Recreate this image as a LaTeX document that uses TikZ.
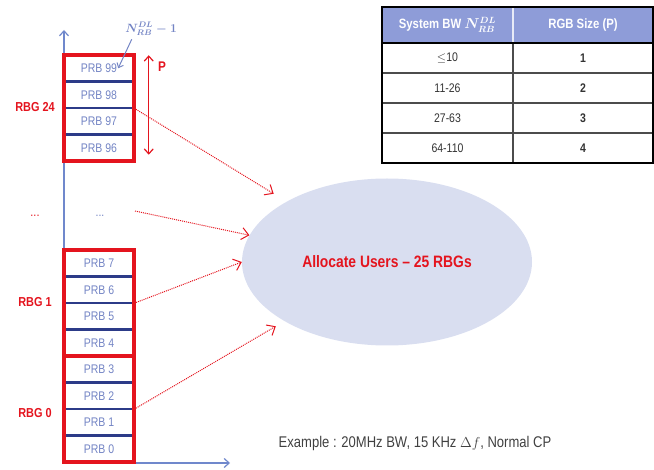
\documentclass[tikz,border=0pt]{standalone}
\usepackage{amsmath}
\usepackage{fontspec}
\setmainfont{Liberation Sans}
\newfontfamily\narrow[FakeStretch=0.84,Ligatures=TeX]{Liberation Sans}
\usetikzlibrary{shapes.geometric,arrows.meta}
\definecolor{rbgred}{HTML}{E4141E}
\definecolor{prbtext}{HTML}{7384C4}
\definecolor{sepblue}{HTML}{2C3B88}
\definecolor{axisblue}{HTML}{7088CC}
\definecolor{userfill}{HTML}{D9DEF0}
\definecolor{headfill}{HTML}{8E9CD8}
\tikzset{
  prb/.style={minimum width=70pt, minimum height=26.5pt, inner sep=0pt, text=prbtext, font=\narrow\fontsize{12.5}{14}\selectfont},
  rbgbox/.style={draw=rbgred, line width=3.5pt, minimum width=70pt, minimum height=106pt, inner sep=0pt},
  rbglabel/.style={text=rbgred, font=\narrow\bfseries\fontsize{13}{15}\selectfont},
  prbsep/.style={draw=sepblue, line width=2.5pt},
  axis/.style={draw=axisblue, line width=1.2pt, -{Straight Barb[length=5pt,width=9pt]}},
  alloc/.style={draw=rbgred, densely dotted, line width=1pt, -{Straight Barb[length=7pt,width=12pt]}},
  cell/.style={font=\narrow\fontsize{12.5}{14}\selectfont, text=black!80},
  headcell/.style={font=\narrow\bfseries\boldmath\fontsize{13.5}{15}\selectfont, text=white},
}

\begin{document}
\begin{tikzpicture}[x=1pt,y=-1pt]
    \useasboundingbox (0,0) rectangle (654,470);

    % users ellipse
    \path (387,262) node[ellipse, fill=userfill, minimum width=290pt, minimum height=167pt, text=rbgred, font=\narrow\bfseries\fontsize{16.5}{18}\selectfont] (users) {Allocate Users – 25 RBGs};

    % axes
    \coordinate (origin) at (64,463);
    \coordinate (ytop) at (64,30);
    \coordinate (xend) at (230,463);
    \draw[axis] (origin) -- (ytop);
    \draw[axis] (origin) -- (xend);

    % RBG 24
    \path (99,68.25) node[prb] (prb99) {PRB 99};
    \path (99,94.75) node[prb] (prb98) {PRB 98};
    \path (99,121.25) node[prb] (prb97) {PRB 97};
    \path (99,147.75) node[prb] (prb96) {PRB 96};
    % RBG 1
    \path (99,263.25) node[prb] (prb7) {PRB 7};
    \path (99,289.75) node[prb] (prb6) {PRB 6};
    \path (99,316.25) node[prb] (prb5) {PRB 5};
    \path (99,342.75) node[prb] (prb4) {PRB 4};
    % RBG 0
    \path (99,369.25) node[prb] (prb3) {PRB 3};
    \path (99,395.75) node[prb] (prb2) {PRB 2};
    \path (99,422.25) node[prb] (prb1) {PRB 1};
    \path (99,448.75) node[prb] (prb0) {PRB 0};

    \draw[prbsep] (prb99.south west) -- (prb99.south east);
    \draw[prbsep] (prb98.south west) -- (prb98.south east);
    \draw[prbsep] (prb97.south west) -- (prb97.south east);
    \draw[prbsep] (prb7.south west) -- (prb7.south east);
    \draw[prbsep] (prb6.south west) -- (prb6.south east);
    \draw[prbsep] (prb5.south west) -- (prb5.south east);
    \draw[prbsep] (prb3.south west) -- (prb3.south east);
    \draw[prbsep] (prb2.south west) -- (prb2.south east);
    \draw[prbsep] (prb1.south west) -- (prb1.south east);

    \path (99,108) node[rbgbox] (rbg24) {};
    \path (99,303) node[rbgbox] (rbg1) {};
    \path (99,409) node[rbgbox] (rbg0) {};

    \path (35,107) node[rbglabel] (rbg24-label) {RBG 24};
    \path (35,302) node[rbglabel] (rbg1-label) {RBG 1};
    \path (35,413) node[rbglabel] (rbg0-label) {RBG 0};

    \path (35,216) node[rbglabel, font=\narrow\fontsize{13}{15}\selectfont] (rbg-dots) {...};
    \path (100,216) node[prb, minimum width=0pt] (prb-dots) {...};
    \coordinate (dots-out) at (135,211);

    % top PRB index
    \path (151,29) node[text=prbtext, font=\boldmath\fontsize{11.5}{13}\selectfont] (rb-max) {$N_{RB}^{DL}-1$};
    \draw[prbtext, line width=1pt, -{Straight Barb[length=4pt,width=7pt]}] ([xshift=10pt]rb-max.south west) -- ([xshift=-16pt]prb99.east);

    % RBG size P
    \draw[rbgred, line width=1.2pt, {Straight Barb[length=5pt,width=9pt]}-{Straight Barb[length=5pt,width=9pt]}, shorten <=2pt, shorten >=8pt] ([xshift=13pt]rbg24.north east) -- ([xshift=13pt]rbg24.south east);
    \path (162,67) node[text=rbgred, font=\narrow\bfseries\fontsize{14}{16}\selectfont] (p-label) {P};

    % allocation arrows
    \draw[alloc, shorten >=15pt] (prb98.south east) -- (users.149);
    \draw[alloc] (dots-out) -- (users.169);
    \draw[alloc] (prb6.south east) -- (users.180);
    \draw[alloc, shorten >=10pt] (prb2.south east) -- (users.210);

    \path (415,443) node[text=black!75, font=\narrow\fontsize{15.5}{18}\selectfont] (example) {Example : 20MHz BW, 15 KHz $\Delta f$, Normal CP};

    % RBG size table
    \fill[headfill] (382,7) rectangle (653,43);
    \draw[black!70, line width=1.2pt] (382,73) -- (653,73);
    \draw[black!70, line width=1.2pt] (382,103) -- (653,103);
    \draw[black!70, line width=1.2pt] (382,133) -- (653,133);
    \draw[black!70, line width=1.2pt] (513,43) -- (513,163);
    \draw[white!80!headfill, line width=1.2pt] (513,7) -- (513,43);
    \draw[black, line width=1.5pt] (382,43) -- (653,43);
    \draw[black, line width=2.5pt] (382,7) rectangle (653,163);

    \path (447.5,25) node[headcell] (bw-head) {System BW $N_{RB}^{DL}$};
    \path (583,25) node[headcell] (p-head) {RGB Size (P)};
    \path (447.5,58) node[cell] (bw-1) {$\leq$10};
    \path (447.5,88) node[cell] (bw-2) {11-26};
    \path (447.5,118) node[cell] (bw-3) {27-63};
    \path (447.5,148) node[cell] (bw-4) {64-110};
    \path (583,58) node[cell, font=\narrow\bfseries\fontsize{12.5}{14}\selectfont] (p-1) {1};
    \path (583,88) node[cell, font=\narrow\bfseries\fontsize{12.5}{14}\selectfont] (p-2) {2};
    \path (583,118) node[cell, font=\narrow\bfseries\fontsize{12.5}{14}\selectfont] (p-3) {3};
    \path (583,148) node[cell, font=\narrow\bfseries\fontsize{12.5}{14}\selectfont] (p-4) {4};
\end{tikzpicture}
\end{document}
